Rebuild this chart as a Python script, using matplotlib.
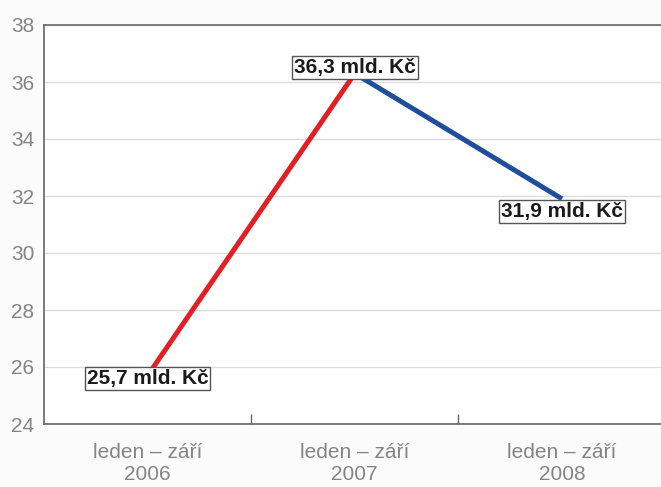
import matplotlib
matplotlib.use("Agg")
import matplotlib.pyplot as plt

plt.rcParams['font.family'] = ['Liberation Sans', 'DejaVu Sans']

categories = ["leden – září\n2006", "leden – září\n2007", "leden – září\n2008"]
values = [25.7, 36.3, 31.9]
labels = ["25,7 mld. Kč", "36,3 mld. Kč", "31,9 mld. Kč"]
yticks = [24, 26, 28, 30, 32, 34, 36, 38]

fig = plt.figure(figsize=(6.61, 4.87), dpi=100)
fig.patch.set_facecolor("#fbfbfb")
ax = fig.add_axes([44/661, 63/487, 1 - 44/661, (424-25)/487])
ax.set_facecolor("white")

x = list(range(len(categories)))
ax.plot(x[0:2], values[0:2], color="#e31e24", lw=3.6, solid_capstyle="butt", zorder=3)
ax.plot(x[1:3], values[1:3], color="#1f4e9c", lw=3.6, solid_capstyle="butt", zorder=3)

offsets = [-0.1, 0.2, -0.45]
for xi, v, lab, dy in zip(x, values, labels, offsets):
    ax.text(xi, v + dy, lab, ha="center", va="center", fontsize=15,
            fontweight="bold", color="#1a1a1a", zorder=5,
            bbox=dict(boxstyle="square,pad=0.1", fc="white", ec="#555555", lw=1))

ax.set_ylim(24, 38)
ax.set_xlim(-0.5, 2.478)
ax.set_yticks(yticks)
ax.set_yticklabels([str(t) for t in yticks], fontsize=15, color="#858585")
ax.yaxis.grid(True, color="#dcdcdc", lw=1)
ax.set_axisbelow(True)
ax.tick_params(axis="y", length=0, pad=7)

ax.set_xticks(x)
ax.set_xticklabels(categories, fontsize=15, color="#858585", linespacing=1.2)
ax.tick_params(axis="x", length=0, pad=14)
ax.set_xticks([0.5, 1.5], minor=True)
ax.tick_params(axis="x", which="minor", direction="in", length=7, color="#666666", width=1)

for s in ["left", "bottom", "top"]:
    ax.spines[s].set_color("#666666")
    ax.spines[s].set_linewidth(1.2)
ax.spines["right"].set_visible(False)

fig.savefig("out.png", dpi=100, facecolor=fig.get_facecolor())
